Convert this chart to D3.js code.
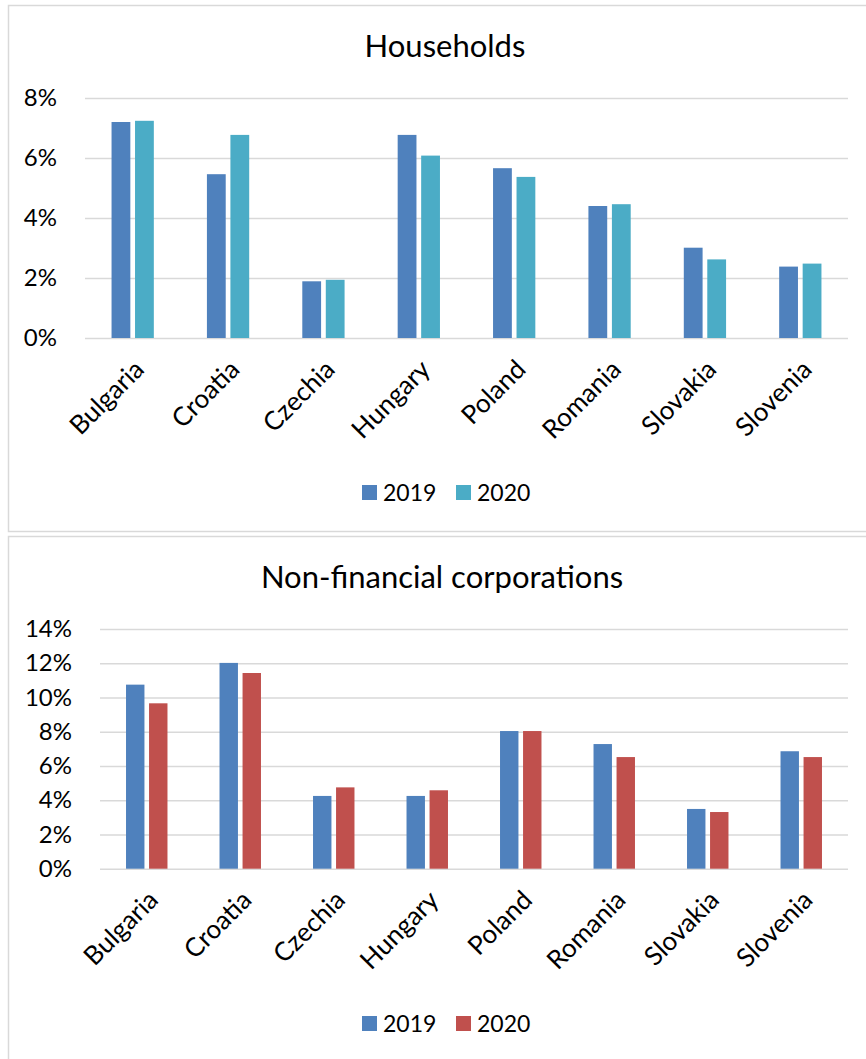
<!DOCTYPE html>
<html>
<head>
<meta charset="utf-8">
<script src="https://cdn.jsdelivr.net/npm/d3@7"></script>
<style>
  html, body { margin: 0; padding: 0; background: #fff; }
  svg text { font-family: Lato, "Open Sans", sans-serif; fill: #000; }
</style>
</head>
<body>
<svg id="chart" width="866" height="1059"></svg>
<script>
const categories = ["Bulgaria", "Croatia", "Czechia", "Hungary", "Poland", "Romania", "Slovakia", "Slovenia"];
const seriesNames = ["2019", "2020"];
const households2019 = [7.2, 5.46, 1.89, 6.77, 5.66, 4.4, 3.01, 2.38];
const households2020 = [7.24, 6.77, 1.94, 6.08, 5.37, 4.46, 2.62, 2.48];
const nfc2019 = [10.75, 12.02, 4.25, 4.25, 8.04, 7.28, 3.49, 6.86];
const nfc2020 = [9.66, 11.43, 4.75, 4.58, 8.04, 6.52, 3.31, 6.52];
const householdsTicks = [0, 2, 4, 6, 8];
const nfcTicks = [0, 2, 4, 6, 8, 10, 12, 14];

const svg = d3.select("#chart");

function drawPanel(cfg) {
  const g = svg.append("g");
  g.append("rect")
    .attr("x", cfg.box[0]).attr("y", cfg.box[1])
    .attr("width", cfg.box[2]).attr("height", cfg.box[3])
    .attr("fill", "#fff").attr("stroke", "#d9d9d9").attr("stroke-width", 1.5);

  const x = d3.scaleBand().domain(categories).range([cfg.left, cfg.right]);
  const inner = d3.scaleBand().domain(seriesNames).range([0, x.bandwidth()])
    .paddingInner(0.2).paddingOuter(1.13);
  const y = d3.scaleLinear().domain(cfg.domain).range([cfg.bottom, cfg.top]);

  const yAxis = d3.axisLeft(y).tickValues(cfg.ticks).tickSize(-(cfg.right - cfg.left))
    .tickFormat(d => d + "%").tickPadding(cfg.tickPad);
  const ya = g.append("g").attr("transform", `translate(${cfg.left},0)`).call(yAxis);
  ya.select(".domain").remove();
  ya.selectAll(".tick line").attr("stroke", "#d9d9d9").attr("stroke-width", 1.5);
  ya.selectAll(".tick text").attr("font-size", 24).attr("font-family", "Lato, sans-serif").attr("fill", "#000");

  const data = categories.map((c, i) => ({ c, vals: [cfg.s1[i], cfg.s2[i]] }));
  const grp = g.selectAll(".grp").data(data).join("g")
    .attr("transform", d => `translate(${x(d.c)},0)`);
  grp.selectAll("rect").data(d => d.vals.map((v, k) => ({ v, k })))
    .join("rect")
    .attr("x", d => inner(seriesNames[d.k]))
    .attr("width", inner.bandwidth())
    .attr("y", d => y(d.v))
    .attr("height", d => y(0) - y(d.v))
    .attr("fill", d => cfg.colors[d.k]);

  const xa = d3.axisBottom(x).tickSize(0).tickPadding(0);
  const xg = g.append("g").attr("transform", `translate(0,${cfg.bottom})`).call(xa);
  xg.select(".domain").remove();
  xg.selectAll(".tick text")
    .attr("font-size", 26).attr("font-family", "Lato, sans-serif").attr("fill", "#000")
    .attr("text-anchor", "end")
    .attr("dy", 0)
    .attr("transform", "translate(13,33) rotate(-45)");

  g.append("text").attr("x", cfg.titleX).attr("y", cfg.titleY)
    .attr("text-anchor", "middle").attr("font-size", 31).text(cfg.title);

  const leg = g.append("g").attr("transform", `translate(0,${cfg.legendY})`);
  const legX = [362, 456];
  seriesNames.forEach((s, k) => {
    leg.append("rect").attr("x", legX[k]).attr("y", -8).attr("width", 15).attr("height", 15)
      .attr("fill", cfg.colors[k]);
    leg.append("text").attr("x", legX[k] + 21).attr("y", 0).attr("dy", "0.35em")
      .attr("font-size", 23).text(s);
  });
}

drawPanel({
  box: [8.5, 5.5, 870, 526], left: 85, right: 848, top: 98, bottom: 338,
  domain: [0, 8], ticks: householdsTicks, s1: households2019, s2: households2020,
  colors: ["#4f81bd", "#4bacc6"], title: "Households", titleX: 445, titleY: 57,
  legendY: 493, tickPad: 28
});
drawPanel({
  box: [8.5, 536.5, 870, 540], left: 100, right: 848, top: 629, bottom: 868.7,
  domain: [0, 14], ticks: nfcTicks, s1: nfc2019, s2: nfc2020,
  colors: ["#4f81bd", "#c0504d"], title: "Non-financial corporations", titleX: 442, titleY: 588,
  legendY: 1024, tickPad: 28
});
</script>
</body>
</html>
